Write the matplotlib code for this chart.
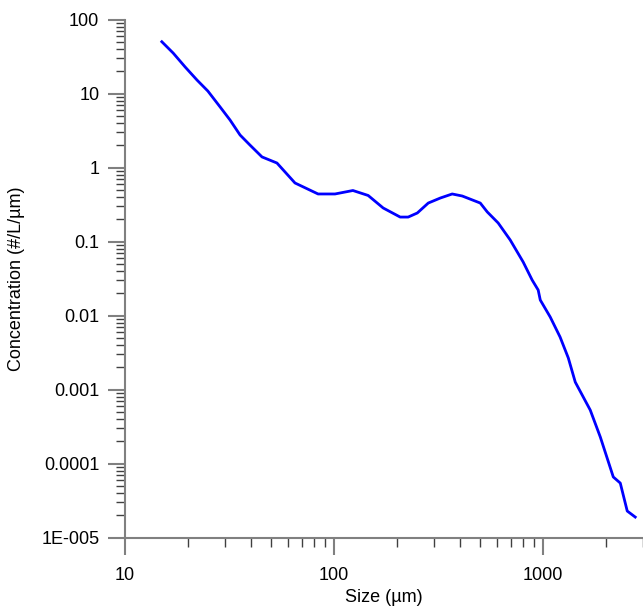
import numpy as np
import matplotlib
matplotlib.use("Agg")
import matplotlib.pyplot as plt
from matplotlib.ticker import LogLocator, FixedLocator, FixedFormatter, NullFormatter

plt.rcParams['font.family'] = ['Liberation Sans', 'DejaVu Sans']

# particle size distribution
size = [15.0, 17.0, 19.4, 22.1, 24.9, 28.5, 31.8, 35.5, 39.6, 45.2, 53.3, 65.0,
        83.8, 101, 123, 145.5, 171.6, 207, 226, 250, 282, 322, 367, 410, 500,
        540, 609, 695, 802, 885, 946, 968, 1080, 1204, 1318, 1423, 1678, 1875,
        2163, 2336, 2522, 2754]
conc = [50.1, 35.2, 22.8, 15.2, 10.8, 6.58, 4.38, 2.75, 2.01, 1.39, 1.15, 0.618,
        0.439, 0.439, 0.489, 0.419, 0.284, 0.214, 0.214, 0.243, 0.331, 0.387,
        0.439, 0.412, 0.331, 0.251, 0.178, 0.105, 0.0528, 0.0302, 0.0221, 0.0162,
        0.00955, 0.00512, 0.00267, 0.00126, 0.000528, 0.000228, 6.58e-5, 5.44e-5,
        2.28e-5, 1.89e-5]

yticks = [1e-5, 1e-4, 1e-3, 1e-2, 1e-1, 1, 10, 100]
ylabels = ['1E-005', '0.0001', '0.001', '0.01', '0.1', '1', '10', '100']
xticks = [10, 100, 1000]
xlabels = ['10', '100', '1000']

fig = plt.figure(figsize=(6.43, 6.06), dpi=100)
ax = fig.add_axes([0.1944, 0.113, 0.8056, 0.8548])

ax.plot(size, conc, '-', color='#0000ff', linewidth=2.0)

ax.set_xscale('log')
ax.set_yscale('log')
ax.set_xlim(10, 3000)
ax.set_ylim(1e-5, 100)

ax.xaxis.set_major_locator(FixedLocator(xticks))
ax.xaxis.set_major_formatter(FixedFormatter(xlabels))
ax.yaxis.set_major_locator(FixedLocator(yticks))
ax.yaxis.set_major_formatter(FixedFormatter(ylabels))
ax.xaxis.set_minor_locator(LogLocator(base=10, subs=np.arange(2, 10), numticks=20))
ax.yaxis.set_minor_locator(LogLocator(base=10, subs=np.arange(2, 10), numticks=20))
ax.xaxis.set_minor_formatter(NullFormatter())
ax.yaxis.set_minor_formatter(NullFormatter())

for s in ['top', 'right']:
    ax.spines[s].set_visible(False)
for s in ['left', 'bottom']:
    ax.spines[s].set_color('#808080')
    ax.spines[s].set_linewidth(1.5)

ax.tick_params(which='major', direction='out', length=12.5, width=1.5,
               color='#808080', labelsize=13, labelcolor='black', pad=6)
ax.tick_params(axis='x', which='major', pad=9)
ax.tick_params(which='minor', direction='out', length=6.5, width=1.0,
               color='#404040')

ax.set_xlabel('Size (µm)', fontsize=13, labelpad=3)
ax.set_ylabel('Concentration (#/L/µm)', fontsize=13, labelpad=12)

fig.savefig('out.png', dpi=100)
